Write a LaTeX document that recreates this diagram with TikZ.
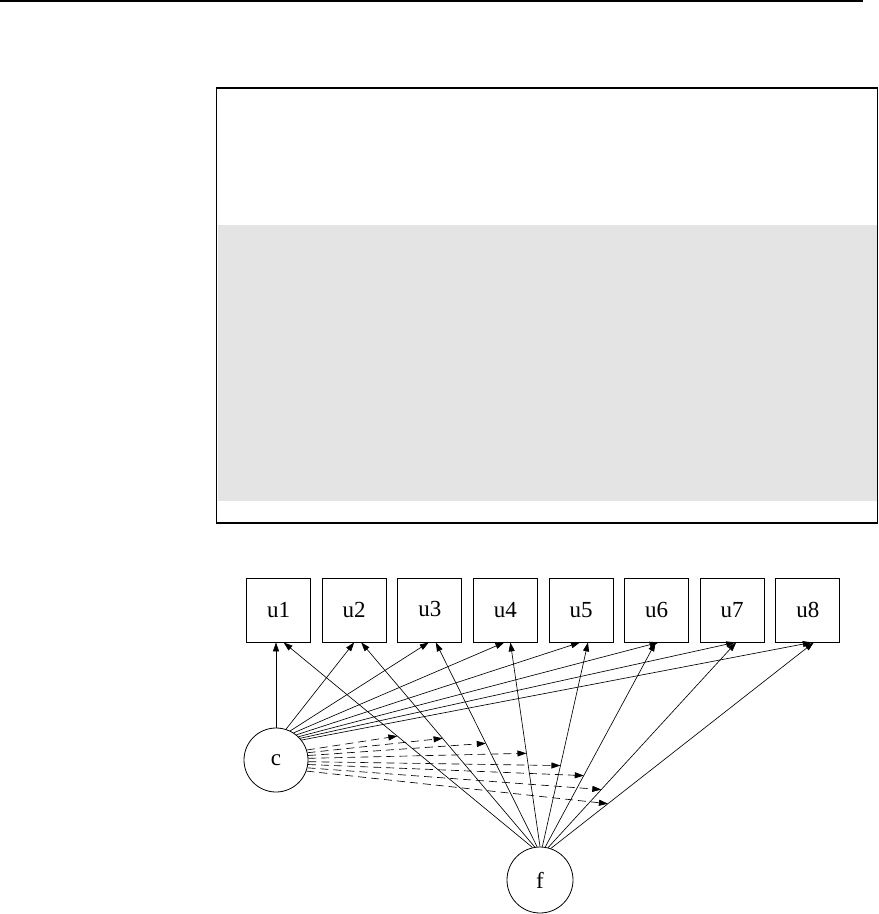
\documentclass[tikz,border=0pt]{standalone}
\usepackage{fontspec}
\setmainfont{Liberation Serif}
\usetikzlibrary{arrows.meta,calc}
\definecolor{band}{HTML}{E4E4E4}
\begin{document}
\begin{tikzpicture}[x=1pt,y=-1pt,
  obs/.style={draw, line width=0.8pt, minimum width=64pt, minimum height=64pt, inner sep=0pt, font=\fontsize{23}{23}\selectfont},
  lat/.style={draw, circle, line width=0.8pt, inner sep=0pt, font=\fontsize{23}{23}\selectfont},
  conn/.style={line width=0.65pt, -{Triangle[length=9pt,width=6pt]}},
  dconn/.style={conn, dash pattern=on 8pt off 5pt}]
\useasboundingbox (0,0) rectangle (879,914);
\draw[line width=1.2pt] (0,1) -- (863,1);
\fill[band] (217.5,225) rectangle (877,501);
\draw[line width=1.5pt] (216.7,88) rectangle (877.5,523);

\node[obs] (u1) at (278.6,610) {u1};
\node[obs] (u2) at (354.2,610) {u2};
\node[obs] (u3) at (429.8,610) {\raisebox{3pt}{u3}};
\node[obs] (u4) at (505.4,610) {u4};
\node[obs] (u5) at (581.0,610) {u5};
\node[obs] (u6) at (656.6,610) {u6};
\node[obs] (u7) at (732.2,610) {u7};
\node[obs] (u8) at (807.8,610) {u8};

\node[lat, minimum size=64pt] (c) at (276,760) {c};
\node[lat, minimum size=66pt] (f) at (540,880) {f};

% end points on the boxes
\coordinate (ce1) at ($(u1.south)+(-2.6,0)$);
\coordinate (ce2) at ($(u2.south)+(0,0)$);
\coordinate (ce3) at ($(u3.south)+(-1,0)$);
\coordinate (ce4) at ($(u4.south)+(-1,0)$);
\coordinate (ce5) at ($(u5.south)+(-1,0)$);
\coordinate (ce6) at ($(u6.south)+(2,0)$);
\coordinate (ce7) at ($(u7.south)+(3,0)$);
\coordinate (ce8) at ($(u8.south)+(4,0)$);
\coordinate (fe1) at ($(u1.south)+(5,0)$);
\coordinate (fe2) at ($(u2.south)+(7,0)$);
\coordinate (fe3) at ($(u3.south)+(6,0)$);
\coordinate (fe4) at ($(u4.south)+(5,0)$);
\coordinate (fe5) at ($(u5.south)+(7,0)$);
\coordinate (fe6) at ($(u6.south)+(-1,0)$);
\coordinate (fe7) at ($(u7.south)+(4,0)$);
\coordinate (fe8) at ($(u8.south)+(6,0)$);

% c -> u
\draw[conn] (c.90) -- (ce1);
\draw[conn] (c.72) -- (ce2);
\draw[conn] (c.64) -- (ce3);
\draw[conn] (c.57) -- (ce4);
\draw[conn] (c.51) -- (ce5);
\draw[conn] (c.46) -- (ce6);
\draw[conn] (c.42) -- (ce7);
\draw[conn] (c.38) -- (ce8);

% f -> u
\draw[conn] (f.103) -- (fe1);
\draw[conn] (f.99) -- (fe2);
\draw[conn] (f.95) -- (fe3);
\draw[conn] (f.90) -- (fe4);
\draw[conn] (f.86) -- (fe5);
\draw[conn] (f.81) -- (fe6);
\draw[conn] (f.76) -- (fe7);
\draw[conn] (f.71) -- (fe8);

% targets on f -> u lines
\coordinate (m1) at ($(f.103)!0.543!(fe1)$);
\coordinate (m2) at ($(f.99)!0.531!(fe2)$);
\coordinate (m3) at ($(f.95)!0.506!(fe3)$);
\coordinate (m4) at ($(f.90)!0.457!(fe4)$);
\coordinate (m5) at ($(f.86)!0.397!(fe5)$);
\coordinate (m6) at ($(f.81)!0.349!(fe6)$);
\coordinate (m7) at ($(f.76)!0.283!(fe7)$);
\coordinate (m8) at ($(f.71)!0.217!(fe8)$);

% c -> (f -> u) dashed
\draw[dconn] (c.18) -- (m1);
\draw[dconn] (c.13) -- (m2);
\draw[dconn] (c.8) -- (m3);
\draw[dconn] (c.3) -- (m4);
\draw[dconn] (c.-3) -- (m5);
\draw[dconn] (c.-8) -- (m6);
\draw[dconn] (c.-14) -- (m7);
\draw[dconn] (c.-20) -- (m8);
\end{tikzpicture}
\end{document}
